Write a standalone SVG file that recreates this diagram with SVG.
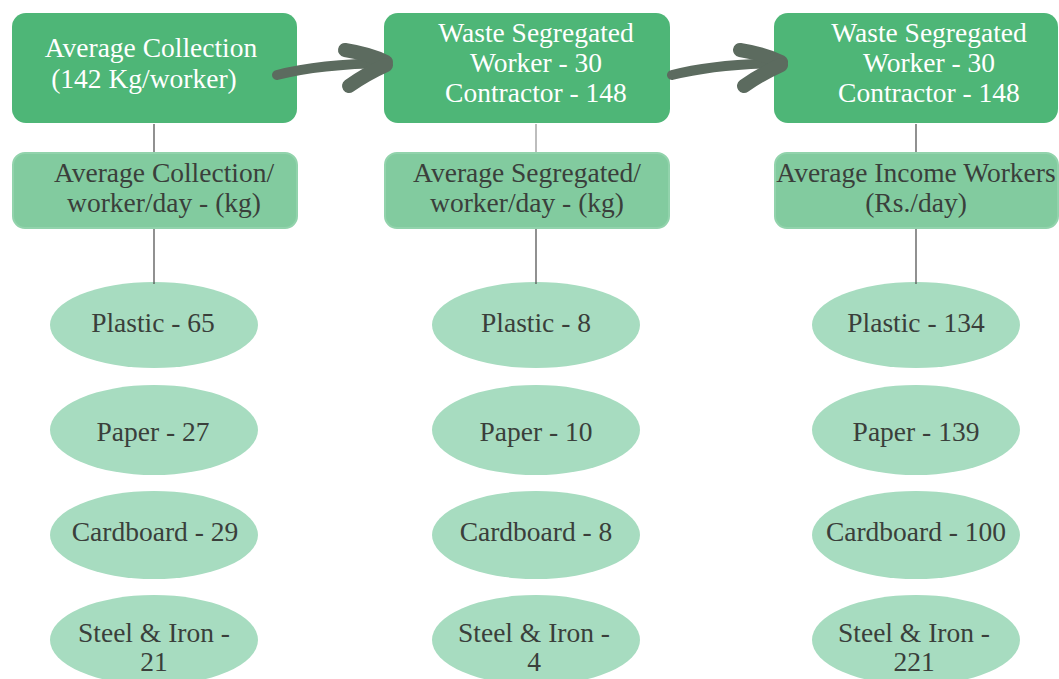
<svg xmlns="http://www.w3.org/2000/svg" width="1059" height="679" viewBox="0 0 1059 679">
<style>
.top{fill:#4eb677}
.sub{fill:#82cb9f;stroke:#92d3ac;stroke-width:2}
.ell{fill:#a7dcc0}
.tw{font-family:"Liberation Serif",serif;font-size:27.5px;fill:#ffffff;text-anchor:middle}
.td{font-family:"Liberation Serif",serif;font-size:27.5px;fill:#3a3f3b;text-anchor:middle}
.ln{stroke:#555;stroke-width:1.3}
.shaft{fill:none;stroke:#5c6b5f;stroke-width:10;stroke-linecap:round}
.arm{fill:none;stroke:#5c6b5f;stroke-width:14;stroke-linecap:round}
</style>
<rect width="1059" height="679" fill="#ffffff"/>
<g id="n1">
<rect class="top" x="12" y="13" width="285" height="110" rx="14"/>
<text class="tw" x="151" y="57">Average Collection</text>
<text class="tw" x="144" y="88">(142 Kg/worker)</text>
</g>
<g id="n2">
<rect class="top" x="384" y="13" width="286" height="110" rx="14"/>
<text class="tw" x="536" y="42">Waste Segregated</text>
<text class="tw" x="536" y="72">Worker - 30</text>
<text class="tw" x="536" y="102">Contractor - 148</text>
</g>
<g id="n3">
<rect class="top" x="774" y="13" width="284" height="110" rx="14"/>
<text class="tw" x="929" y="42">Waste Segregated</text>
<text class="tw" x="929" y="72">Worker - 30</text>
<text class="tw" x="929" y="102">Contractor - 148</text>
</g>
<g id="s1">
<rect class="sub" x="13" y="153" width="284" height="75" rx="12"/>
<text class="td" x="164" y="182">Average Collection/</text>
<text class="td" x="164" y="212">worker/day - (kg)</text>
</g>
<g id="s2">
<rect class="sub" x="385" y="153" width="284" height="75" rx="12"/>
<text class="td" x="527" y="182">Average Segregated/</text>
<text class="td" x="527" y="212">worker/day - (kg)</text>
</g>
<g id="s3">
<rect class="sub" x="775" y="153" width="283" height="75" rx="12"/>
<text class="td" x="916" y="182">Average Income Workers</text>
<text class="td" x="916" y="212">(Rs./day)</text>
</g>
<g id="c1a"><ellipse class="ell" cx="154" cy="325" rx="104" ry="43"/><text class="td" x="153" y="332">Plastic - 65</text></g>
<g id="c1b"><ellipse class="ell" cx="154" cy="430" rx="104" ry="45"/><text class="td" x="153" y="441">Paper - 27</text></g>
<g id="c1c"><ellipse class="ell" cx="154" cy="535" rx="104" ry="44"/><text class="td" x="155" y="541">Cardboard - 29</text></g>
<g id="c1d"><ellipse class="ell" cx="154" cy="640" rx="104" ry="45"/><text class="td" x="154" y="642">Steel &amp; Iron -</text><text class="td" x="154" y="671">21</text></g>
<g id="c2a"><ellipse class="ell" cx="536" cy="325" rx="104" ry="43"/><text class="td" x="536" y="332">Plastic - 8</text></g>
<g id="c2b"><ellipse class="ell" cx="536" cy="430" rx="104" ry="45"/><text class="td" x="536" y="441">Paper - 10</text></g>
<g id="c2c"><ellipse class="ell" cx="536" cy="535" rx="104" ry="44"/><text class="td" x="536" y="541">Cardboard - 8</text></g>
<g id="c2d"><ellipse class="ell" cx="536" cy="640" rx="104" ry="45"/><text class="td" x="534" y="642">Steel &amp; Iron -</text><text class="td" x="534" y="671">4</text></g>
<g id="c3a"><ellipse class="ell" cx="916" cy="325" rx="104" ry="43"/><text class="td" x="916" y="332">Plastic - 134</text></g>
<g id="c3b"><ellipse class="ell" cx="916" cy="430" rx="104" ry="45"/><text class="td" x="916" y="441">Paper - 139</text></g>
<g id="c3c"><ellipse class="ell" cx="916" cy="535" rx="104" ry="44"/><text class="td" x="916" y="541">Cardboard - 100</text></g>
<g id="c3d"><ellipse class="ell" cx="916" cy="640" rx="104" ry="45"/><text class="td" x="914" y="642">Steel &amp; Iron -</text><text class="td" x="914" y="671">221</text></g>
<g id="connectors">
<line class="ln" x1="154" y1="124" x2="154" y2="152"/>
<line class="ln" x1="154" y1="229" x2="154" y2="284"/>
<line class="ln" x1="536" y1="124" x2="536" y2="152" stroke-opacity="0.6"/>
<line class="ln" x1="536" y1="229" x2="536" y2="284"/>
<line class="ln" x1="916" y1="124" x2="916" y2="152"/>
<line class="ln" x1="916" y1="229" x2="916" y2="284"/>
<path class="shaft" d="M277,75 Q320,64 386,63"/>
<path class="arm" d="M345,50 Q370,54 386,62"/>
<path class="arm" d="M349,86 Q366,74 386,65"/>
<path class="shaft" d="M672,75 Q715,64 781,63"/>
<path class="arm" d="M740,50 Q765,54 781,62"/>
<path class="arm" d="M744,86 Q761,74 781,65"/>
</g>
</svg>
